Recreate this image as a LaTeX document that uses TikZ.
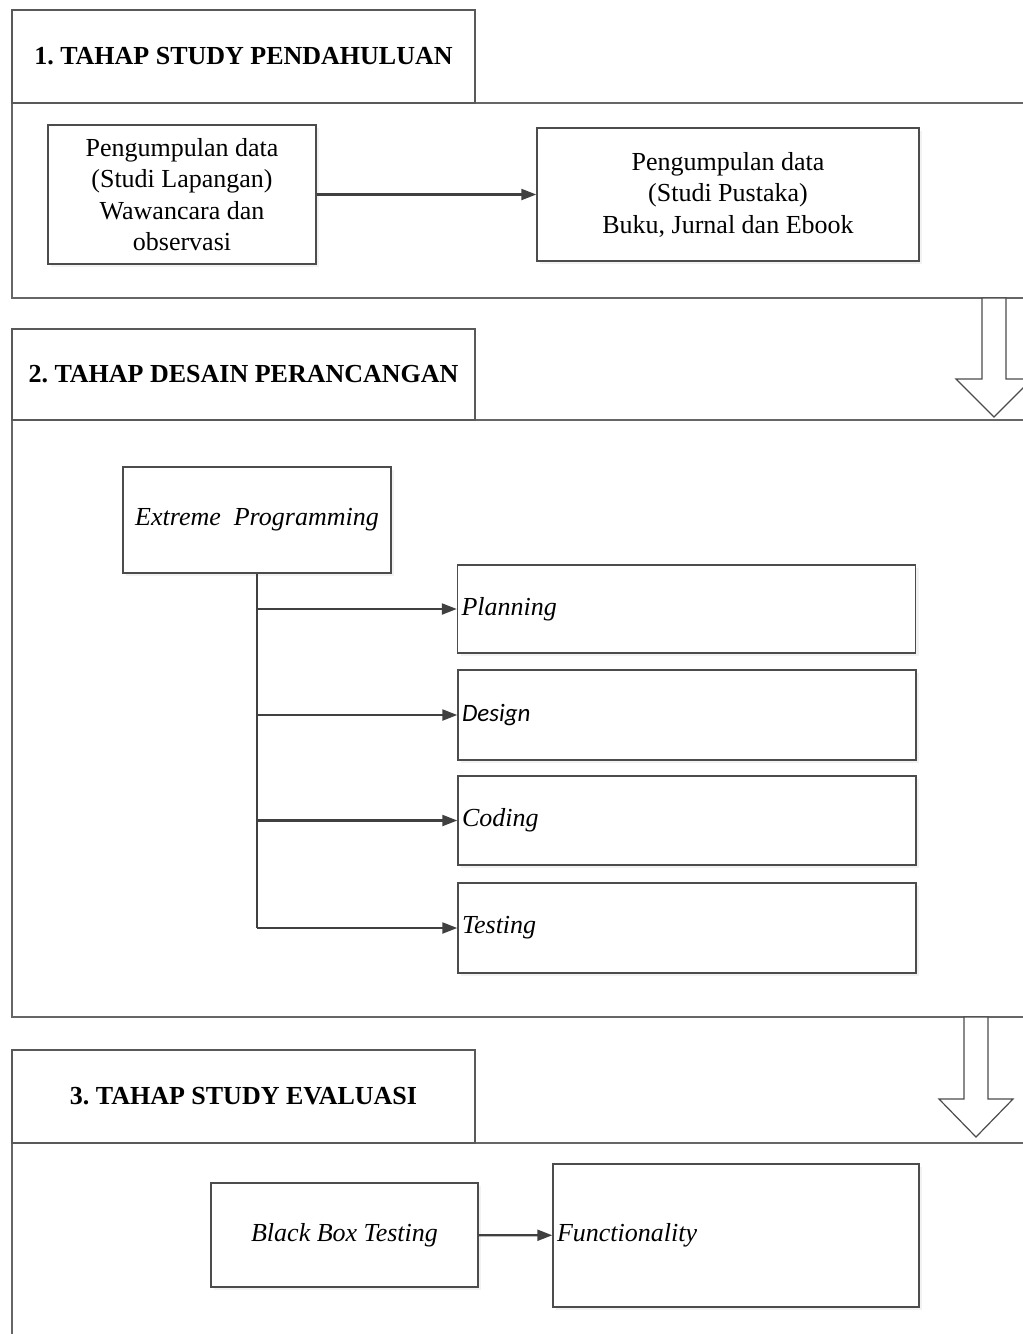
\documentclass[tikz,border=0pt]{standalone}
\usepackage{fontspec}
\setmainfont{Liberation Serif}
\newfontfamily\calibri{Carlito}
\usetikzlibrary{arrows.meta,shadows}

\begin{document}
\begin{tikzpicture}[x=1pt,y=-1pt, >={Triangle[length=15pt,width=11pt]},
  box/.style={draw=black!70, line width=1.4pt, fill=white, align=center, inner sep=4pt,
    font=\fontsize{26}{31.5}\selectfont,
    drop shadow={shadow xshift=3pt,shadow yshift=-3pt,fill=black!10}},
  header/.style={draw=black!65, line width=1.4pt, minimum width=463pt,
    font=\frenchspacing\bfseries\fontsize{26}{31}\selectfont},
  stepbox/.style={box, text width=450pt, align=left, minimum height=89pt, font=\itshape\fontsize{26}{31.5}\selectfont},
  frame/.style={draw=black!60, line width=1.4pt},
  link/.style={->, draw=black!75, line width=2.2pt},
  hollow/.style={draw=black!70, line width=1.2pt, fill=white}]
  \useasboundingbox (0,0) rectangle (1023,1334);
  \clip (0,0) rectangle (1023,1334);

  % section frames, open at the right edge
  \draw[frame] (1030,103) -- (12,103) -- (12,298) -- (1030,298);
  \draw[frame] (1030,420) -- (12,420) -- (12,1017) -- (1030,1017);
  \draw[frame] (1030,1143) -- (12,1143) -- (12,1340);

  % hollow arrows between the stages
  \draw[hollow] (982,298) -- (982,379) -- (956,379) -- (994,417) -- (1032,379) -- (1006,379) -- (1006,298) -- cycle;
  \draw[hollow] (964,1017) -- (964,1099) -- (939,1099) -- (976,1137) -- (1013,1099) -- (988,1099) -- (988,1017) -- cycle;

  % 1. study pendahuluan
  \node[header, minimum height=93pt] (tahap1) at (243.5,56.5) {1. TAHAP STUDY PENDAHULUAN};
  \node[box, minimum width=268pt, minimum height=139pt] (lapangan) at (182,194.5)
    {Pengumpulan data\\(Studi Lapangan)\\Wawancara dan\\observasi};
  \node[box, minimum width=382pt, minimum height=133pt] (pustaka) at (728,194.5)
    {Pengumpulan data\\(Studi Pustaka)\\Buku, Jurnal dan Ebook};
  \draw[link] (lapangan) -- (pustaka);

  % 2. desain perancangan
  \node[header, minimum height=91pt] (tahap2) at (243.5,374.5) {2. TAHAP DESAIN PERANCANGAN};
  \node[box, minimum width=268pt, minimum height=106pt, font=\itshape\fontsize{26}{31.5}\selectfont] (xp) at (257,520)
    {Extreme\ \ Programming};
  \node[stepbox, minimum height=88pt] (planning) at (686.5,609) {Planning};
  \node[stepbox, minimum height=90pt, font=\calibri\itshape\fontsize{25}{30}\selectfont] (design) at (687,715) {Design};
  \node[stepbox] (coding) at (687,820.5) {Coding};
  \node[stepbox, minimum height=90pt] (testing) at (687,928) {Testing};
  \draw[link, -] (xp.south) -- (xp.south |- testing.west);
  \foreach \s in {planning,design,coding,testing}
    \draw[link] (xp.south |- \s.west) -- (\s.west);

  % 3. study evaluasi
  \node[header, minimum height=93pt] (tahap3) at (243.5,1096.5) {3. TAHAP STUDY EVALUASI};
  \node[box, minimum width=267pt, minimum height=104pt, font=\itshape\fontsize{26}{31.5}\selectfont] (blackbox) at (344.5,1235)
    {Black Box Testing};
  \node[box, minimum width=366pt, minimum height=143pt, text width=358pt, align=left, font=\itshape\fontsize{26}{31.5}\selectfont] (functionality) at (736,1235.5)
    {Functionality};
  \draw[link] (blackbox) -- (functionality);
\end{tikzpicture}
\end{document}
